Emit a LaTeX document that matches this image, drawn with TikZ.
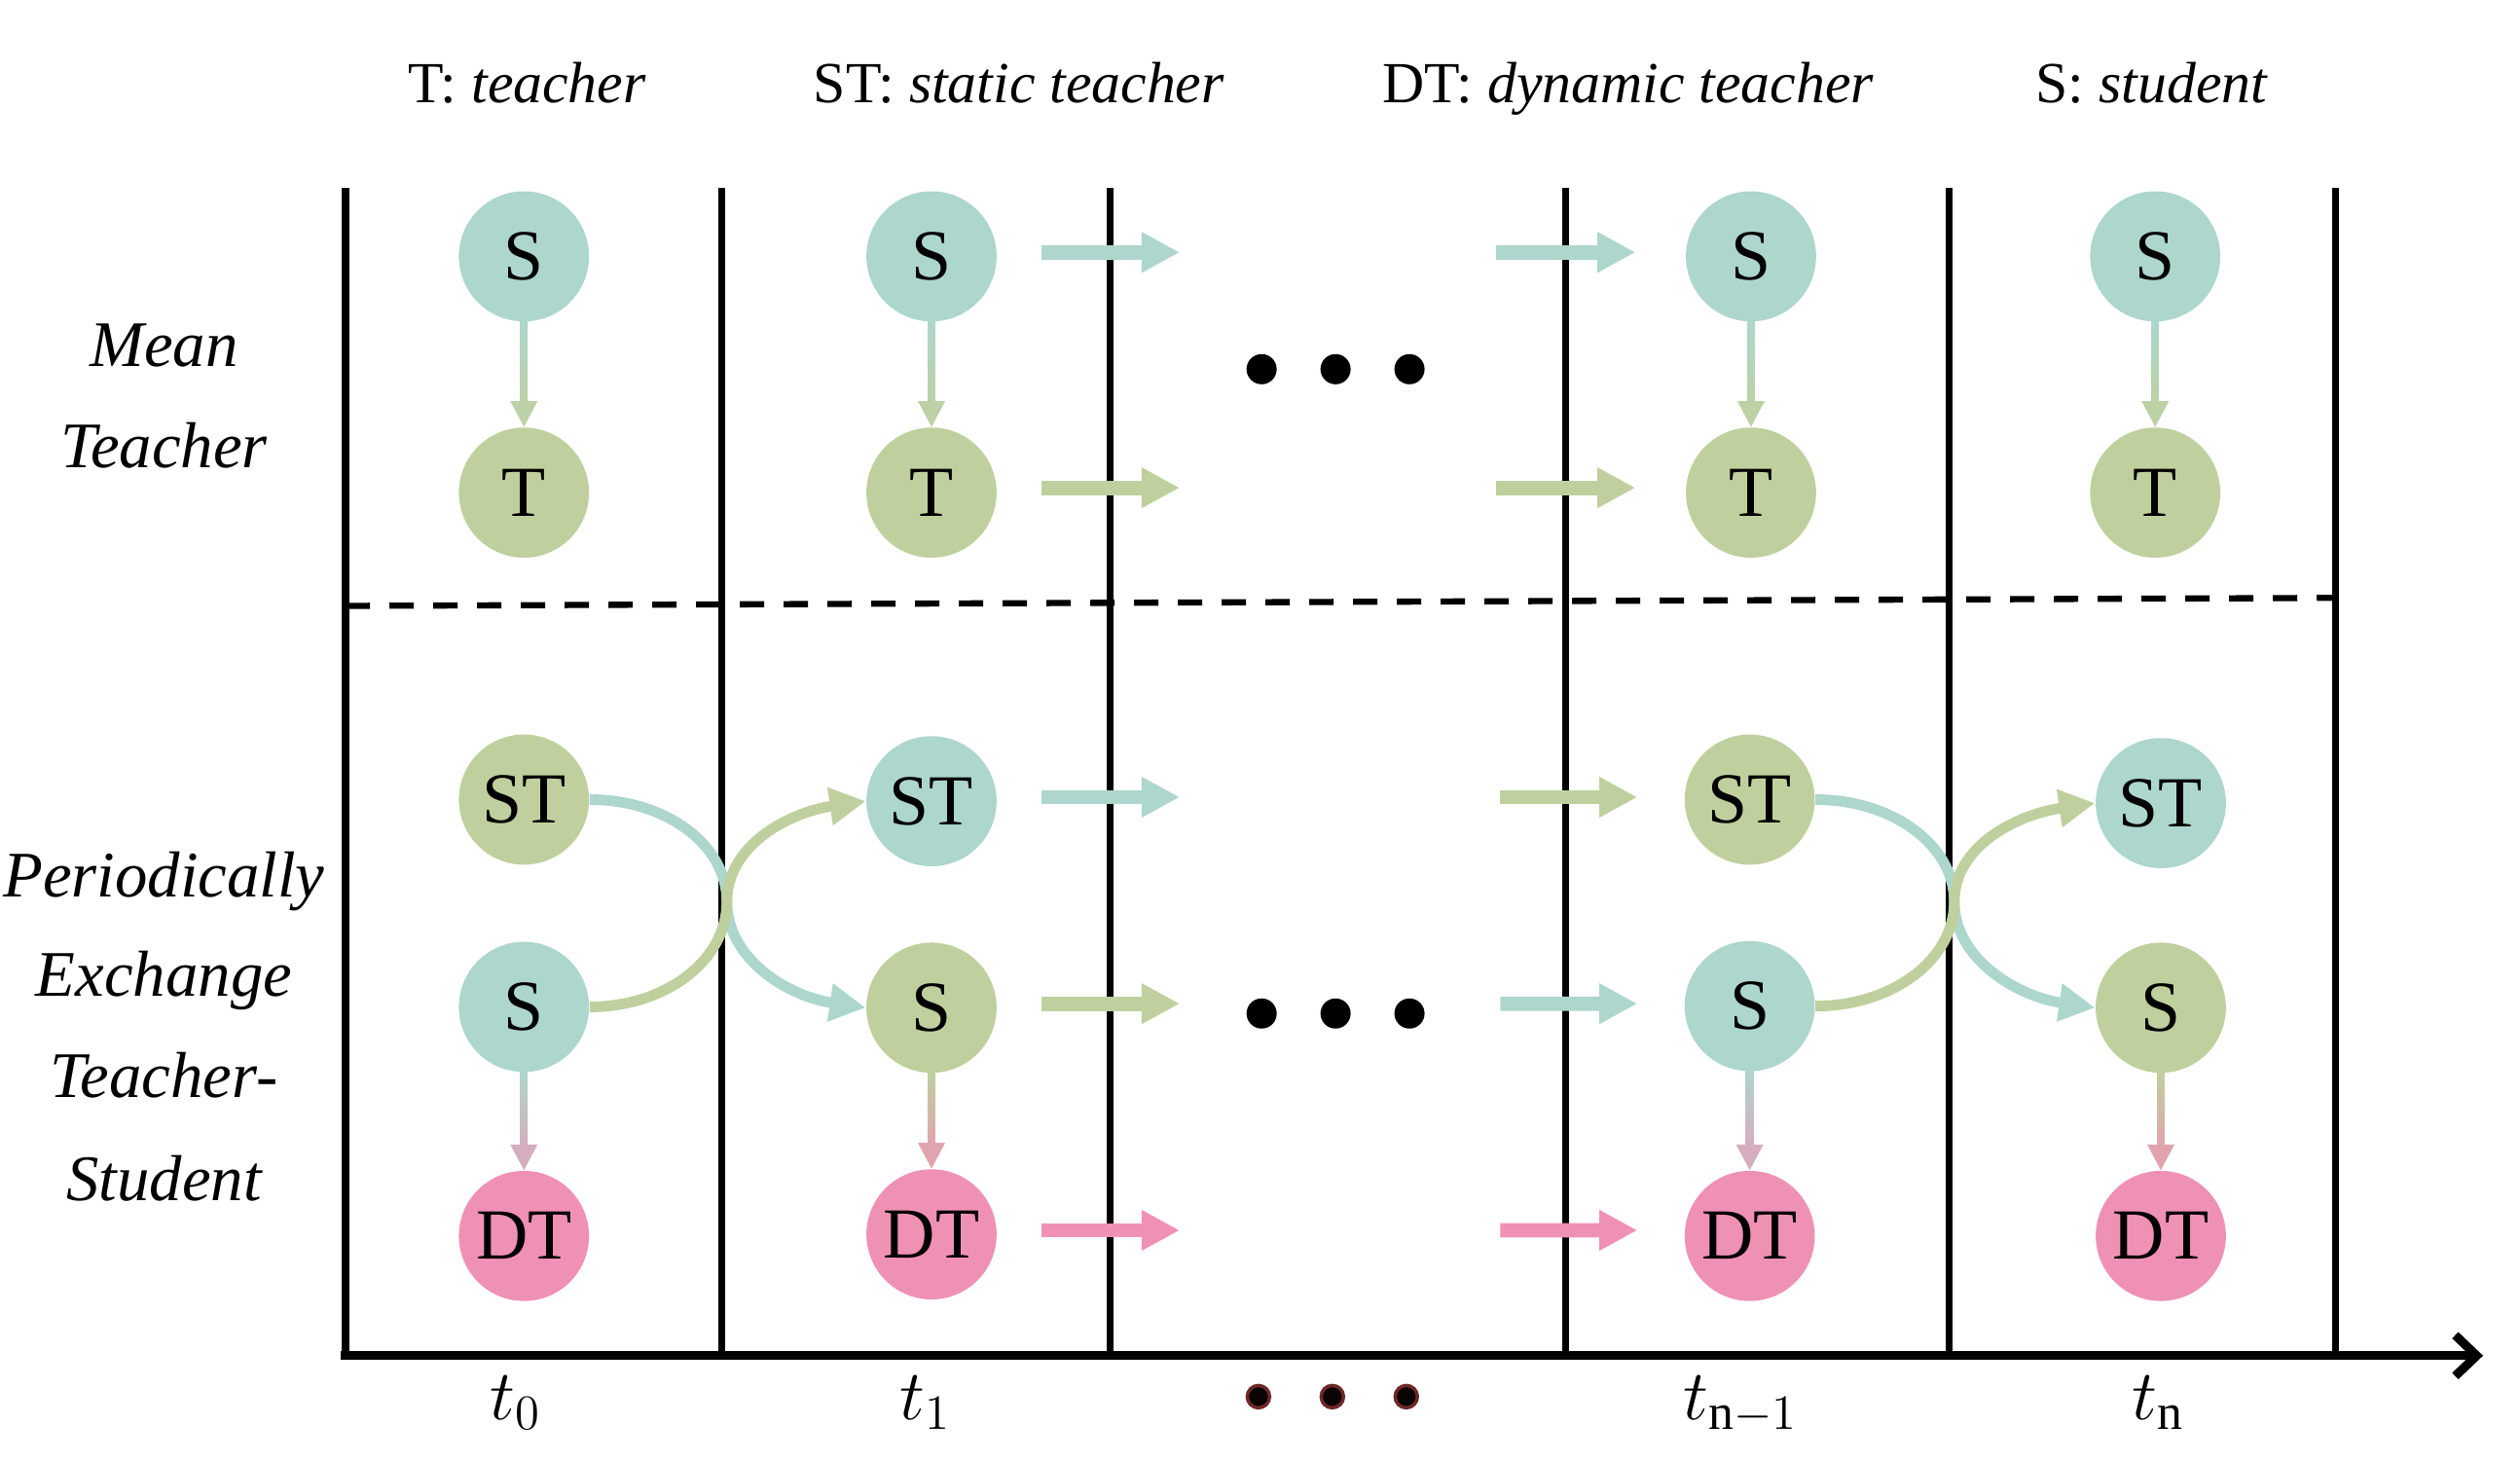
\documentclass[tikz,border=0pt]{standalone}
\usepackage{fontspec}
\setmainfont{Liberation Serif}
\usetikzlibrary{arrows.meta,calc}
\definecolor{cteal}{RGB}{173,214,205}
\definecolor{cgreen}{RGB}{191,208,158}
\definecolor{cpink}{RGB}{239,145,181}
\definecolor{cdotred}{RGB}{110,40,40}
\newcommand\gradarrow[4]{%
  \shade[top color=#3, bottom color=#4] ($(#1.south)+(-2.4,-1)$) rectangle ($(#2.north)+(2.4,-14)$);
  \fill[#4] ($(#2.north)+(-8.5,-16)$) -- ($(#2.north)+(8.5,-16)$) -- (#2.north) -- cycle;
}
\begin{document}
\begin{tikzpicture}[x=0.016511cm,y=-0.016511cm,
  agent/.style={circle,minimum size=1.337cm,inner sep=0pt,font=\fontsize{21}{25}\selectfont},
  tealnode/.style={agent,fill=cteal},
  greennode/.style={agent,fill=cgreen},
  pinknode/.style={agent,fill=cpink},
  header/.style={anchor=base,font=\fontsize{17}{20}\selectfont},
  side/.style={anchor=base,font=\fontsize{19}{22}\selectfont\itshape},
  tlabel/.style={anchor=base,font=\fontsize{21}{25}\selectfont},
  frame/.style={line width=2pt},
  fatarrow/.style={line width=4.2pt,-{Triangle[length=0.39cm,width=0.39cm]}},
  swap/.style={line width=3.1pt,-{Triangle[length=0.37cm,width=0.37cm]}},
  bigdot/.style={circle,fill=black,inner sep=0pt,minimum size=0.31cm},
  smalldot/.style={circle,fill=black!90!cdotred,draw=cdotred,line width=1pt,inner sep=0pt,minimum size=0.23cm}
]
\useasboundingbox (0,0) rectangle (1568,908.5);

% headers
\node[header] (h1) at (328,64) {T: \textit{teacher}};
\node[header] (h2) at (634,64) {ST: \textit{static teacher}};
\node[header] (h3) at (1013,64) {DT: \textit{dynamic teacher}};
\node[header] (h4) at (1339,64) {S: \textit{student}};

% side labels
\node[side] (m1) at (102,228) {Mean};
\node[side] (m2) at (102,291) {Teacher};
\node[side] (p1) at (102,558) {Periodically};
\node[side] (p2) at (102,620) {Exchange};
\node[side] (p3) at (102,683) {Teacher-};
\node[side] (p4) at (102,747) {Student};

% frame lines
\foreach \x in {215,449,691,974,1213,1453}
  \draw[frame] (\x,117) -- (\x,843.5);
\draw[line width=2.6pt,-{Straight Barb[length=0.22cm,width=0.42cm]}] (212,843.5) -- (1545,843.5);
\draw[line width=1.8pt,dash pattern=on 0.25cm off 0.2cm] (215,377) -- (1453,372);

% time labels
\node[tlabel] (t0) at (321,883) {$t_0$};
\node[tlabel] (t1) at (576,883) {$t_1$};
\node[tlabel] (t2) at (1083,883) {$t_{\mathrm{n}-1}$};
\node[tlabel] (t3) at (1343,883) {$t_{\mathrm{n}}$};

% mean teacher nodes
\node[tealnode] (ms0) at (326,159.5) {S};
\node[greennode] (mt0) at (326,306.5) {T};
\node[tealnode] (ms1) at (579.6,159.5) {S};
\node[greennode] (mt1) at (579.6,306.5) {T};
\node[tealnode] (ms3) at (1089.5,159.5) {S};
\node[greennode] (mt3) at (1089.5,306.5) {T};
\node[tealnode] (ms4) at (1341,159.5) {S};
\node[greennode] (mt4) at (1341,306.5) {T};

\gradarrow{ms0}{mt0}{cteal}{cgreen!85!cteal}
\gradarrow{ms1}{mt1}{cteal}{cgreen!85!cteal}
\gradarrow{ms3}{mt3}{cteal}{cgreen!85!cteal}
\gradarrow{ms4}{mt4}{cteal}{cgreen!85!cteal}

% exchange nodes
\node[greennode] (st0) at (326,497.5) {ST};
\node[tealnode] (s0) at (326,626.5) {S};
\node[pinknode] (dt0) at (326,769) {DT};
\node[tealnode] (st1) at (579.6,498.5) {ST};
\node[greennode] (s1) at (579.6,627) {S};
\node[pinknode] (dt1) at (579.6,768) {DT};
\node[greennode] (st3) at (1088.7,497.5) {ST};
\node[tealnode] (s3) at (1088.7,626) {S};
\node[pinknode] (dt3) at (1088.7,769) {DT};
\node[tealnode] (st4) at (1344.5,499.7) {ST};
\node[greennode] (s4) at (1344.5,627) {S};
\node[pinknode] (dt4) at (1344.5,769) {DT};

\gradarrow{s0}{dt0}{cteal}{cpink!60!cteal}
\gradarrow{s1}{dt1}{cgreen}{cpink!70!cgreen}
\gradarrow{s3}{dt3}{cteal}{cpink!60!cteal}
\gradarrow{s4}{dt4}{cgreen}{cpink!70!cgreen}

% exchange curves
\coordinate (x01) at (452.3,561);
\coordinate (x34) at (1216,561);
\draw[swap,cteal] (st0.east) .. controls +(48,0) and +(0,-35) .. (x01)
   .. controls +(0,36) and +(-48,-7) .. (s1.west);
\draw[swap,cgreen] (s0.east) .. controls +(48,0) and +(0,36) .. (x01)
   .. controls +(0,-35) and +(-48,7) .. (st1.west);
\draw[swap,cteal] (st3.east) .. controls +(48,0) and +(0,-35) .. (x34)
   .. controls +(0,36) and +(-48,-7) .. (s4.west);
\draw[swap,cgreen] (s3.east) .. controls +(48,0) and +(0,36) .. (x34)
   .. controls +(0,-35) and +(-48,7) .. (st4.west);

% short arrows
\coordinate (a1) at (648,157);   \coordinate (b1) at (734,157);
\coordinate (a2) at (648,303.5); \coordinate (b2) at (734,303.5);
\coordinate (a3) at (931,157);   \coordinate (a4) at (931,303.5);
\coordinate (a5) at (648,496);   \coordinate (b5) at (734,496);
\coordinate (a6) at (648,624.5); \coordinate (b6) at (734,624.5);
\coordinate (a7) at (648,765.5); \coordinate (b7) at (734,765.5);
\coordinate (a8) at (933.5,496); \coordinate (a9) at (933.5,624.5);
\coordinate (a10) at (933.5,765.5);
\draw[fatarrow,cteal] (a1) -- (b1);
\draw[fatarrow,cgreen] (a2) -- (b2);
\draw[fatarrow,cteal] (a3) -- ($(ms3.west)+(-31,-2.5)$);
\draw[fatarrow,cgreen] (a4) -- ($(mt3.west)+(-31,-3)$);
\draw[fatarrow,cteal] (a5) -- (b5);
\draw[fatarrow,cgreen] (a6) -- (b6);
\draw[fatarrow,cpink] (a7) -- (b7);
\draw[fatarrow,cgreen] (a8) -- ($(st3.west)+(-29,-1.5)$);
\draw[fatarrow,cteal] (a9) -- ($(s3.west)+(-29,-1.5)$);
\draw[fatarrow,cpink] (a10) -- ($(dt3.west)+(-29,-3.5)$);

% dots
\foreach \x [count=\i] in {785,831,877} {
  \node[bigdot] (du\i) at (\x,229.7) {};
  \node[bigdot] (dm\i) at (\x,630.6) {};
  \node[smalldot] (dl\i) at (\x-2,869) {};
}
\end{tikzpicture}
\end{document}
